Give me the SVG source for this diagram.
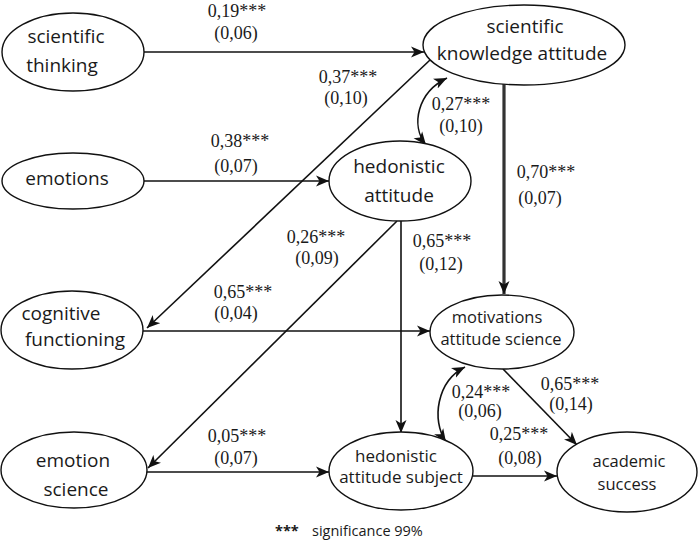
<svg xmlns="http://www.w3.org/2000/svg" width="700" height="542" viewBox="0 0 700 542">
<style>
.n ellipse{fill:#fff;stroke:#111;stroke-width:1.4}
.n text{font-family:"Open Sans","Noto Sans",sans-serif;fill:#1a1a1a;text-anchor:middle}
.c path{fill:none;stroke:#111;stroke-width:1.6}
.c .thick{stroke-width:3.2;stroke:#333}
.l text{font-family:"Liberation Serif","Times New Roman",serif;font-size:18px;fill:#1a1a1a;text-anchor:middle}
.f{font-family:"Open Sans","Noto Sans",sans-serif;font-size:14.5px;fill:#1a1a1a}
</style>
<defs>
<marker id="ah" markerUnits="userSpaceOnUse" markerWidth="14" markerHeight="12" refX="13" refY="6" orient="auto-start-reverse">
<path d="M0,0.5 L13,6 L0,11.5 L3.5,6 z" fill="#111"/>
</marker>
</defs>
<rect width="700" height="542" fill="#fff"/>
<g class="c">
<path d="M144,52 H424" marker-end="url(#ah)"/>
<path d="M430,60 L147,328" marker-end="url(#ah)"/>
<path d="M144,181 H329" marker-end="url(#ah)"/>
<path d="M397,221 L148,468" marker-end="url(#ah)"/>
<path d="M401,221 V433" marker-end="url(#ah)"/>
<path class="thick" d="M504,84 V294" marker-end="url(#ah)"/>
<path d="M143,331 H430" marker-end="url(#ah)"/>
<path d="M147,472 H329" marker-end="url(#ah)"/>
<path d="M473,476 H557" marker-end="url(#ah)"/>
<path d="M503,369 L577,445" marker-end="url(#ah)"/>
<path d="M447,78 C418,92 410,125 426,145" marker-start="url(#ah)" marker-end="url(#ah)"/>
<path d="M465,367 C437,381 431,420 446,442" marker-start="url(#ah)" marker-end="url(#ah)"/>
</g>
<g id="scientific-thinking" class="n"><ellipse cx="73" cy="52" rx="71" ry="39"/><text font-size="19"><tspan x="66" y="43">scientific</tspan><tspan x="62" y="72">thinking</tspan></text></g>
<g id="emotions" class="n"><ellipse cx="73" cy="181" rx="71" ry="28"/><text font-size="19" x="67" y="185">emotions</text></g>
<g id="cognitive-functioning" class="n"><ellipse cx="72" cy="330" rx="71" ry="39"/><text font-size="19"><tspan x="61" y="320">cognitive</tspan><tspan x="75" y="346">functioning</tspan></text></g>
<g id="emotion-science" class="n"><ellipse cx="74" cy="470" rx="73" ry="38"/><text font-size="19"><tspan x="73" y="467">emotion</tspan><tspan x="76" y="496">science</tspan></text></g>
<g id="hedonistic-attitude" class="n"><ellipse cx="400" cy="181" rx="71" ry="40"/><text font-size="19"><tspan x="399" y="173">hedonistic</tspan><tspan x="399" y="202">attitude</tspan></text></g>
<g id="scientific-knowledge-attitude" class="n"><ellipse cx="524" cy="45" rx="101" ry="40"/><text font-size="19"><tspan x="525" y="33">scientific</tspan><tspan x="522" y="60">knowledge attitude</tspan></text></g>
<g id="motivations-attitude-science" class="n"><ellipse cx="502" cy="332" rx="72" ry="37"/><text font-size="16.5"><tspan x="497" y="323">motivations</tspan><tspan x="501" y="345">attitude science</tspan></text></g>
<g id="hedonistic-attitude-subject" class="n"><ellipse cx="401" cy="471" rx="72" ry="39"/><text font-size="17"><tspan x="396" y="462">hedonistic</tspan><tspan x="401" y="483">attitude subject</tspan></text></g>
<g id="academic-success" class="n"><ellipse cx="627" cy="472" rx="70" ry="40"/><text font-size="16.5"><tspan x="629" y="467">academic</tspan><tspan x="627" y="490">success</tspan></text></g>
<g class="l">
<text x="237" y="17">0,19***</text><text x="236" y="39">(0,06)</text>
<text x="348" y="83">0,37***</text><text x="346" y="104">(0,10)</text>
<text x="240" y="147">0,38***</text><text x="236" y="172">(0,07)</text>
<text x="316" y="243">0,26***</text><text x="317" y="264">(0,09)</text>
<text x="461" y="110">0,27***</text><text x="461" y="132">(0,10)</text>
<text x="546" y="178">0,70***</text><text x="540" y="204">(0,07)</text>
<text x="442" y="247">0,65***</text><text x="441" y="270">(0,12)</text>
<text x="243" y="298">0,65***</text><text x="236" y="319">(0,04)</text>
<text x="237" y="442">0,05***</text><text x="236" y="464">(0,07)</text>
<text x="481" y="398">0,24***</text><text x="480" y="417">(0,06)</text>
<text x="570" y="390">0,65***</text><text x="571" y="410">(0,14)</text>
<text x="519" y="440">0,25***</text><text x="520" y="464">(0,08)</text>
</g>
<text class="f" y="536"><tspan x="275" font-weight="bold">***</tspan><tspan x="312">significance 99%</tspan></text>
</svg>
